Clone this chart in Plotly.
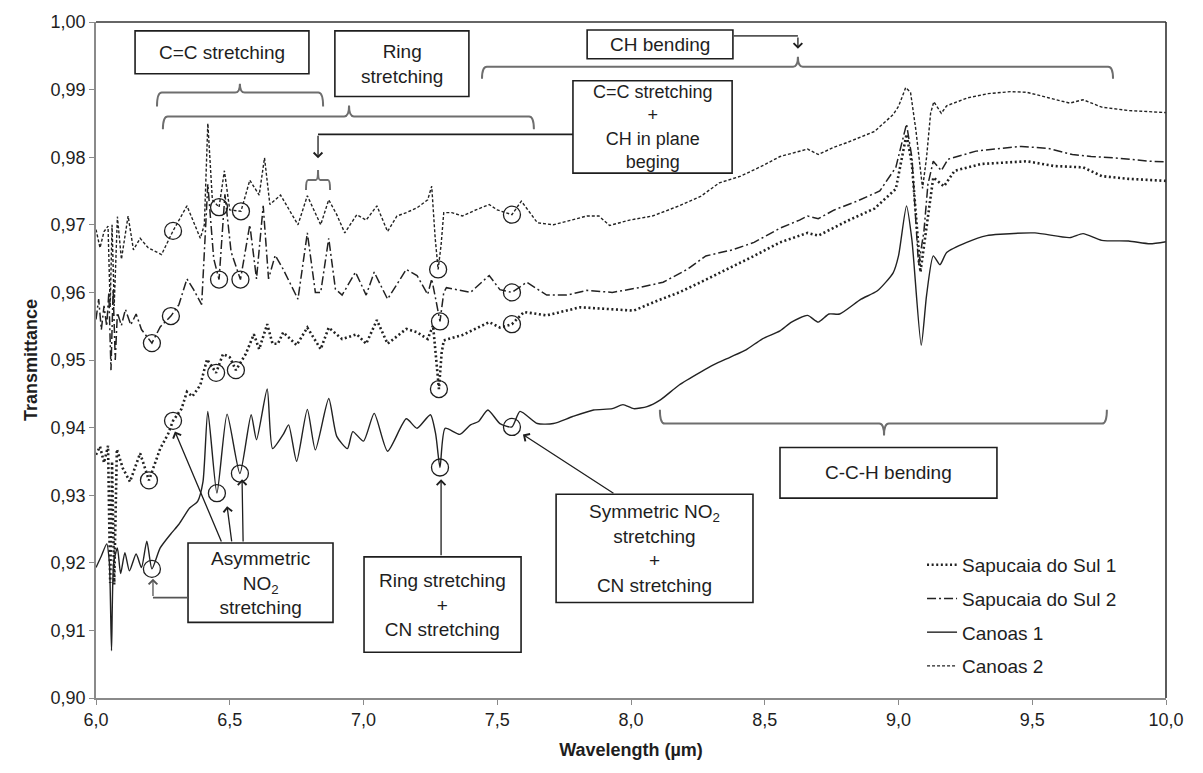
import plotly.graph_objects as go

# ---------------- spectra (wavelength in µm, transmittance) ----------------
c2_x = [6.000, 6.015, 6.030, 6.045, 6.053, 6.060, 6.068, 6.080, 6.095, 6.120, 6.140, 6.165, 6.195, 6.245,
        6.288, 6.340, 6.390, 6.405, 6.418, 6.435, 6.460, 6.480, 6.500, 6.542, 6.575, 6.610, 6.630, 6.650,
        6.690, 6.755, 6.790, 6.840, 6.870, 6.900, 6.930, 6.975, 7.010, 7.050, 7.090, 7.125, 7.160, 7.200,
        7.240, 7.255, 7.268, 7.279, 7.290, 7.300, 7.330, 7.370, 7.420, 7.470, 7.500, 7.555, 7.590, 7.650,
        7.710, 7.780, 7.835, 7.880, 7.920, 7.995, 8.080, 8.180, 8.260, 8.330, 8.410, 8.490, 8.557, 8.660,
        8.700, 8.760, 8.810, 8.910, 8.980, 9.000, 9.027, 9.045, 9.065, 9.090, 9.105, 9.120, 9.132, 9.160,
        9.180, 9.260, 9.335, 9.420, 9.480, 9.560, 9.640, 9.690, 9.760, 9.860, 10.000]
c2_y = [0.9693, 0.9666, 0.9690, 0.9698, 0.9578, 0.9700, 0.9580, 0.9712, 0.9649, 0.9713, 0.9663, 0.9680, 0.9666, 0.9656,
        0.9691, 0.9728, 0.9680, 0.9700, 0.9850, 0.9737, 0.9726, 0.9780, 0.9722, 0.9720, 0.9766, 0.9744, 0.9799, 0.9730,
        0.9744, 0.9700, 0.9743, 0.9700, 0.9737, 0.9715, 0.9688, 0.9715, 0.9707, 0.9728, 0.9690, 0.9713, 0.9718, 0.9725,
        0.9737, 0.9757, 0.9680, 0.9634, 0.9670, 0.9718, 0.9718, 0.9713, 0.9722, 0.9730, 0.9722, 0.9715, 0.9735, 0.9703,
        0.9700, 0.9707, 0.9713, 0.9713, 0.9699, 0.9707, 0.9713, 0.9728, 0.9742, 0.9762, 0.9772, 0.9787, 0.9801, 0.9812,
        0.9804, 0.9815, 0.9822, 0.9838, 0.9863, 0.9875, 0.9903, 0.9896, 0.9840, 0.9754, 0.9800, 0.9865, 0.9882, 0.9865,
        0.9876, 0.9888, 0.9894, 0.9897, 0.9896, 0.9888, 0.9880, 0.9885, 0.9874, 0.9869, 0.9866]

s2_x = [6.000, 6.010, 6.020, 6.030, 6.040, 6.048, 6.056, 6.064, 6.072, 6.080, 6.095, 6.110, 6.130, 6.150,
        6.170, 6.209, 6.240, 6.280, 6.310, 6.340, 6.365, 6.395, 6.418, 6.440, 6.460, 6.482, 6.505, 6.540,
        6.575, 6.600, 6.625, 6.645, 6.670, 6.700, 6.730, 6.755, 6.790, 6.820, 6.840, 6.870, 6.895, 6.920,
        6.970, 7.010, 7.040, 7.090, 7.160, 7.200, 7.240, 7.255, 7.270, 7.286, 7.300, 7.310, 7.400, 7.470,
        7.510, 7.555, 7.610, 7.685, 7.760, 7.835, 7.930, 8.030, 8.120, 8.210, 8.280, 8.380, 8.460, 8.557,
        8.630, 8.660, 8.700, 8.760, 8.845, 8.930, 8.990, 9.030, 9.050, 9.075, 9.095, 9.110, 9.130, 9.160,
        9.185, 9.290, 9.360, 9.460, 9.560, 9.650, 9.720, 9.810, 9.940, 10.000]
s2_y = [0.9560, 0.9590, 0.9545, 0.9580, 0.9550, 0.9600, 0.9485, 0.9605, 0.9500, 0.9570, 0.9551, 0.9575, 0.9552, 0.9568,
        0.9545, 0.9525, 0.9549, 0.9565, 0.9582, 0.9620, 0.9604, 0.9582, 0.9760, 0.9650, 0.9619, 0.9745, 0.9660, 0.9619,
        0.9700, 0.9620, 0.9728, 0.9620, 0.9655, 0.9634, 0.9610, 0.9590, 0.9688, 0.9600, 0.9600, 0.9680, 0.9605, 0.9596,
        0.9630, 0.9596, 0.9630, 0.9590, 0.9634, 0.9625, 0.9597, 0.9620, 0.9590, 0.9557, 0.9600, 0.9607, 0.9600, 0.9625,
        0.9604, 0.9600, 0.9615, 0.9596, 0.9596, 0.9603, 0.9600, 0.9607, 0.9615, 0.9634, 0.9654, 0.9663, 0.9674, 0.9695,
        0.9707, 0.9713, 0.9709, 0.9722, 0.9735, 0.9750, 0.9785, 0.9849, 0.9800, 0.9640, 0.9690, 0.9760, 0.9794, 0.9780,
        0.9797, 0.9809, 0.9812, 0.9816, 0.9813, 0.9804, 0.9801, 0.9799, 0.9794, 0.9793]

s1_x = [6.000, 6.015, 6.030, 6.045, 6.053, 6.060, 6.068, 6.078, 6.100, 6.127, 6.165, 6.198, 6.240, 6.270,
        6.288, 6.320, 6.340, 6.360, 6.390, 6.415, 6.449, 6.475, 6.500, 6.523, 6.560, 6.590, 6.610, 6.640,
        6.660, 6.680, 6.700, 6.750, 6.790, 6.840, 6.870, 6.920, 6.975, 7.010, 7.050, 7.090, 7.160, 7.200,
        7.240, 7.260, 7.272, 7.282, 7.292, 7.300, 7.370, 7.470, 7.510, 7.555, 7.600, 7.685, 7.810, 7.910,
        8.010, 8.100, 8.180, 8.260, 8.360, 8.460, 8.557, 8.660, 8.700, 8.810, 8.910, 8.990, 9.030, 9.050,
        9.082, 9.100, 9.130, 9.170, 9.210, 9.310, 9.480, 9.580, 9.690, 9.760, 9.860, 10.000]
s1_y = [0.9360, 0.9372, 0.9348, 0.9373, 0.9170, 0.9350, 0.9168, 0.9368, 0.9340, 0.9320, 0.9362, 0.9322, 0.9369, 0.9391,
        0.9410, 0.9428, 0.9453, 0.9446, 0.9463, 0.9501, 0.9481, 0.9509, 0.9504, 0.9485, 0.9509, 0.9538, 0.9516, 0.9553,
        0.9524, 0.9524, 0.9541, 0.9522, 0.9548, 0.9516, 0.9548, 0.9531, 0.9538, 0.9524, 0.9559, 0.9524, 0.9546, 0.9541,
        0.9531, 0.9551, 0.9500, 0.9457, 0.9510, 0.9529, 0.9537, 0.9556, 0.9548, 0.9553, 0.9571, 0.9566, 0.9578, 0.9575,
        0.9573, 0.9588, 0.9600, 0.9615, 0.9634, 0.9654, 0.9674, 0.9688, 0.9684, 0.9706, 0.9724, 0.9753, 0.9834, 0.9790,
        0.9630, 0.9680, 0.9770, 0.9757, 0.9780, 0.9790, 0.9794, 0.9787, 0.9785, 0.9772, 0.9768, 0.9765]

c1_x = [6.000, 6.020, 6.040, 6.050, 6.058, 6.066, 6.080, 6.092, 6.108, 6.125, 6.150, 6.170, 6.190, 6.209,
        6.240, 6.280, 6.310, 6.350, 6.380, 6.400, 6.418, 6.452, 6.490, 6.538, 6.580, 6.600, 6.640, 6.660,
        6.700, 6.720, 6.750, 6.790, 6.820, 6.870, 6.900, 6.940, 6.960, 7.000, 7.040, 7.090, 7.160, 7.200,
        7.250, 7.270, 7.286, 7.305, 7.360, 7.400, 7.430, 7.465, 7.510, 7.555, 7.585, 7.650, 7.710, 7.780,
        7.860, 7.930, 7.970, 8.010, 8.060, 8.110, 8.180, 8.260, 8.310, 8.370, 8.430, 8.490, 8.557, 8.600,
        8.660, 8.700, 8.740, 8.780, 8.860, 8.920, 8.980, 9.000, 9.030, 9.050, 9.085, 9.105, 9.130, 9.155,
        9.180, 9.255, 9.330, 9.380, 9.510, 9.640, 9.690, 9.760, 9.860, 9.940, 10.000]
c1_y = [0.9193, 0.9210, 0.9228, 0.9200, 0.9070, 0.9200, 0.9222, 0.9184, 0.9215, 0.9188, 0.9213, 0.9193, 0.9232, 0.9191,
        0.9222, 0.9243, 0.9257, 0.9281, 0.9291, 0.9320, 0.9424, 0.9303, 0.9420, 0.9332, 0.9419, 0.9382, 0.9457, 0.9369,
        0.9390, 0.9404, 0.9350, 0.9427, 0.9367, 0.9443, 0.9387, 0.9369, 0.9394, 0.9380, 0.9421, 0.9365, 0.9413, 0.9399,
        0.9419, 0.9390, 0.9341, 0.9399, 0.9390, 0.9404, 0.9409, 0.9426, 0.9406, 0.9401, 0.9424, 0.9406, 0.9406, 0.9416,
        0.9426, 0.9428, 0.9434, 0.9428, 0.9431, 0.9441, 0.9463, 0.9482, 0.9493, 0.9504, 0.9515, 0.9531, 0.9543, 0.9556,
        0.9566, 0.9556, 0.9568, 0.9568, 0.9590, 0.9602, 0.9629, 0.9654, 0.9728, 0.9678, 0.9522, 0.9596, 0.9654, 0.9641,
        0.9659, 0.9674, 0.9684, 0.9686, 0.9688, 0.9681, 0.9687, 0.9677, 0.9676, 0.9672, 0.9675]

# wavelengths of the circled bands on each spectrum
s1_marks = [6.198, 6.288, 6.449, 6.523, 7.282, 7.555]
s2_marks = [6.209, 6.280, 6.460, 6.540, 7.286, 7.555]
c1_marks = [6.209, 6.452, 6.538, 7.286, 7.555]
c2_marks = [6.288, 6.460, 6.542, 7.279, 7.555]

series_names = ["Sapucaia do Sul 1", "Sapucaia do Sul 2", "Canoas 1", "Canoas 2"]

FONT = "Liberation Sans, Arial, sans-serif"
INK = "#1e1e1e"
BRACE = "#6e6e6e"

fig = go.Figure()

styles = [
    (s1_x, s1_y, s1_marks, dict(color="#222", width=2.6, dash="2px,2.6px"), "linear"),
    (s2_x, s2_y, s2_marks, dict(color="#222", width=1.5, dash="9px,3px,2px,3px"), "linear"),
    (c1_x, c1_y, c1_marks, dict(color="#222", width=1.4), "spline"),
    (c2_x, c2_y, c2_marks, dict(color="#222", width=1.4, dash="3px,2px"), "linear"),
]

for name, (xs, ys, marks, line, shape) in zip(series_names, styles):
    line = dict(line, shape=shape)
    if shape == "spline":
        line["smoothing"] = 0.6
    fig.add_trace(go.Scatter(x=xs, y=ys, mode="lines", name=name, line=line,
                             legendgroup=name))

for xs, ys, marks, _, _ in styles:
    lookup = dict(zip(xs, ys))
    fig.add_trace(go.Scatter(x=marks, y=[lookup[m] for m in marks], mode="markers",
                             marker=dict(symbol="circle-open", size=17, color=INK,
                                         line=dict(width=1.3, color=INK)),
                             showlegend=False, hoverinfo="skip"))

shapes = []
annotations = []


def box(x0, x1, y0, y1, text, size=19):
    shapes.append(dict(type="rect", xref="x", yref="y", x0=x0, x1=x1, y0=y0, y1=y1,
                       line=dict(color=INK, width=1.6), fillcolor="white", layer="above"))
    annotations.append(dict(x=(x0 + x1) / 2, y=(y0 + y1) / 2, xref="x", yref="y",
                            text=text, showarrow=False,
                            font=dict(family=FONT, size=size, color=INK)))


def path(d, color=BRACE, width=2):
    shapes.append(dict(type="path", xref="x", yref="y", path=d,
                       line=dict(color=color, width=width), layer="above"))


def arrow(x_tail, y_tail, x_tip, y_tip, color=INK):
    annotations.append(dict(x=x_tip, y=y_tip, ax=x_tail, ay=y_tail, xref="x", yref="y",
                            axref="x", ayref="y", text="", showarrow=True,
                            arrowhead=4, arrowsize=1.3, arrowwidth=1.3, arrowcolor=color,
                            standoff=0, startstandoff=0))


def brace(x0, x1, y, tip, hook, dx=0.018):
    """Horizontal curly bracket at height y with ends bent to `hook` and a centre point at `tip`."""
    xm = tip[0]
    d = (f"M {x0},{hook} Q {x0},{y} {x0 + dx},{y} L {xm - dx},{y} "
         f"Q {xm},{y} {xm},{tip[1]} Q {xm},{y} {xm + dx},{y} "
         f"L {x1 - dx},{y} Q {x1},{y} {x1},{hook}")
    path(d)


# label boxes
box(6.146, 6.796, 0.99235, 0.99868, "C=C stretching")
box(6.893, 7.394, 0.98897, 0.99868, "Ring<br>stretching")
box(7.836, 8.381, 0.99456, 0.99882, "CH bending")
box(7.783, 8.378, 0.97765, 0.99132, "C=C stretching<br>+<br>CH in plane<br>beging", size=18)
box(8.557, 9.368, 0.92956, 0.93706, "C-C-H bending")
box(6.344, 6.886, 0.91118, 0.92294, "Asymmetric<br>NO<sub>2</sub><br>stretching")
box(7.002, 7.589, 0.90676, 0.92088, "Ring stretching<br>+<br>CN stretching")
box(7.720, 8.456, 0.91412, 0.93015, "Symmetric NO<sub>2</sub><br>stretching<br>+<br>CN stretching")

# brackets over the assigned bands
brace(6.228, 6.849, 0.98956, (6.538, 0.99088), 0.98750)
brace(6.250, 7.637, 0.98603, (6.946, 0.98765), 0.98412)
brace(7.443, 9.802, 0.99338, (8.624, 0.99485), 0.99162)
brace(6.785, 6.875, 0.97662, (6.830, 0.97809), 0.97515, dx=0.008)
brace(8.108, 9.779, 0.94059, (8.946, 0.93882), 0.94265)

# connectors from boxes to their brackets
path("M 7.783,0.98338 L 6.830,0.98338", color=INK, width=1.6)
arrow(6.830, 0.98338, 6.830, 0.97985)
path("M 8.381,0.99794 L 8.624,0.99794", color="#555", width=1.8)
arrow(8.624, 0.99794, 8.624, 0.99603)

# arrows to the circled NO2 / CN bands
arrow(6.471, 0.92294, 6.295, 0.93941)
arrow(6.508, 0.92294, 6.490, 0.92838)
arrow(6.550, 0.92294, 6.546, 0.93235)
path("M 6.344,0.91485 L 6.213,0.91485", color="#555", width=1.8)
arrow(6.213, 0.91485, 6.213, 0.91765, color="#555")
arrow(7.290, 0.92088, 7.290, 0.93235)
arrow(7.940, 0.93015, 7.596, 0.93897)

# dark frame on the top and right sides
shapes.append(dict(type="line", xref="paper", yref="paper", x0=0, x1=1, y0=1, y1=1,
                   line=dict(color="#333", width=1.6)))
shapes.append(dict(type="line", xref="paper", yref="paper", x0=1, x1=1, y0=0, y1=1,
                   line=dict(color="#333", width=1.6)))

fig.update_layout(
    width=1203, height=773,
    margin=dict(l=96, r=37, t=18, b=75),
    paper_bgcolor="white", plot_bgcolor="white",
    separators=",.",
    font=dict(family=FONT, size=18, color=INK),
    shapes=shapes, annotations=annotations,
    showlegend=True,
    legend=dict(x=0.772, y=0.225, xanchor="left", yanchor="top",
                bgcolor="rgba(0,0,0,0)", tracegroupgap=6, itemwidth=30,
                font=dict(family=FONT, size=19, color=INK)),
    xaxis=dict(range=[6, 10], dtick=0.5, tick0=6, tickformat=".1f",
               showgrid=False, zeroline=False, showline=True, linecolor="#8a8a8a", linewidth=1.5,
               ticks="outside", ticklen=5, tickcolor="#8a8a8a",
               tickfont=dict(family=FONT, size=18, color=INK),
               title=dict(text="<b>Wavelength (µm)</b>", standoff=14,
                          font=dict(family=FONT, size=18, color=INK))),
    yaxis=dict(range=[0.90, 1.00], dtick=0.01, tick0=0.90, tickformat=".2f",
               showgrid=False, zeroline=False, showline=True, linecolor="#8a8a8a", linewidth=1.5,
               ticks="outside", ticklen=5, tickcolor="#8a8a8a",
               tickfont=dict(family=FONT, size=18, color=INK),
               title=dict(text="<b>Transmittance</b>", standoff=8,
                          font=dict(family=FONT, size=18, color=INK))),
)

fig.write_html("out.html")
